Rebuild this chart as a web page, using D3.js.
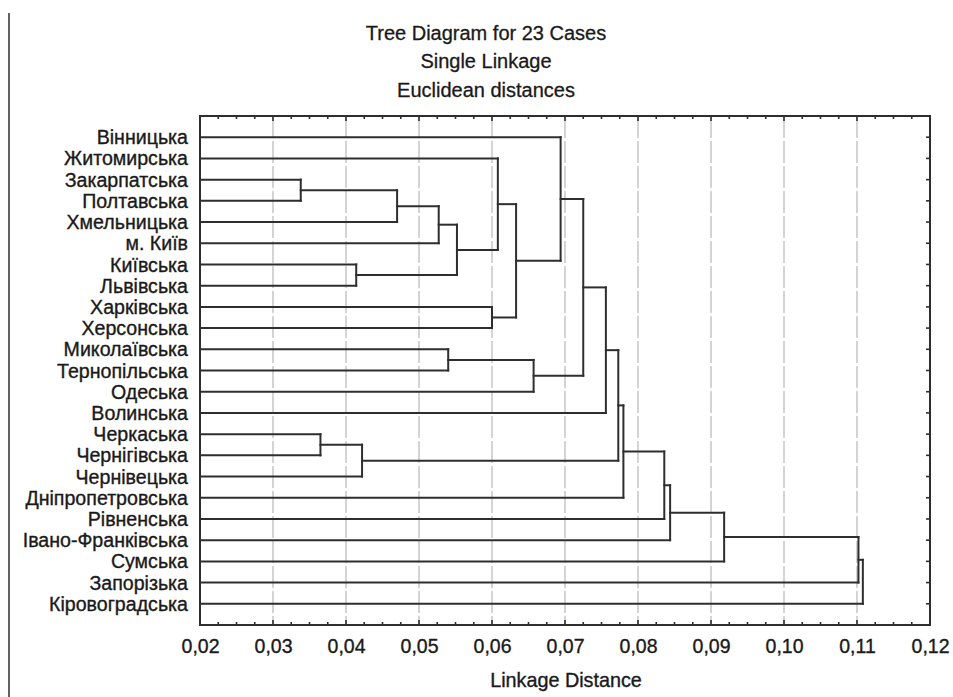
<!DOCTYPE html>
<html>
<head>
<meta charset="utf-8">
<script src="https://cdn.jsdelivr.net/npm/d3@7"></script>
<style>
  html, body { margin: 0; padding: 0; background: #fff; }
  svg { display: block; }
  text { font-family: "Liberation Sans", Arial, sans-serif; fill: #1a1a1a; stroke: #1a1a1a; stroke-width: 0.35px; }
</style>
</head>
<body>
<svg id="chart" width="953" height="697"></svg>
<script>
// ---- Data ----
const titleLines = ["Tree Diagram for 23 Cases", "Single Linkage", "Euclidean distances"];
const xAxisTitle = "Linkage Distance";

// Leaves in dendrogram order (top to bottom)
const cases = [
  "Вінницька", "Житомирська", "Закарпатська", "Полтавська", "Хмельницька",
  "м. Київ", "Київська", "Львівська", "Харківська", "Херсонська",
  "Миколаївська", "Тернопільська", "Одеська", "Волинська", "Черкаська",
  "Чернігівська", "Чернівецька", "Дніпропетровська", "Рівненська",
  "Івано-Франківська", "Сумська", "Запорізька", "Кіровоградська"
];

// Merge steps: ids < 23 are cases, id 23+k is the cluster formed at step k
const mergeA = [2, 14, 6, 24, 23, 27, 10, 28, 8, 1, 32, 29, 0, 35, 36, 37, 38, 39, 40, 41, 42, 43];
const mergeB = [3, 15, 7, 16, 4, 5, 11, 25, 9, 30, 31, 12, 33, 34, 13, 26, 17, 18, 19, 20, 21, 22];
const mergeHeight = [0.0338, 0.0365, 0.0414, 0.0422, 0.0470, 0.0527, 0.0540, 0.0552,
                     0.0600, 0.0608, 0.0633, 0.0657, 0.0694, 0.0725, 0.0756, 0.0773,
                     0.0780, 0.0836, 0.0844, 0.0918, 0.1102, 0.1108];

const xTicks = [0.02, 0.03, 0.04, 0.05, 0.06, 0.07, 0.08, 0.09, 0.10, 0.11, 0.12];
const xDomain = [0.02, 0.12];

// ---- Layout ----
const svg = d3.select("#chart");
const plot = { left: 200, right: 930, top: 116, bottom: 625 };

const x = d3.scaleLinear().domain(xDomain).range([plot.left, plot.right]);
const y = d3.scalePoint().domain(cases).range([plot.top, plot.bottom]).padding(1);

const fmt = d => d3.format(".2f")(d).replace(".", ",");
const ink = "#2e2e2e";

// outer left border line
svg.append("line").attr("x1", 9).attr("x2", 9).attr("y1", 13).attr("y2", 697)
  .attr("stroke", ink).attr("stroke-width", 1.5);

// gridlines
svg.append("g").selectAll("line")
  .data(xTicks.slice(1, -1))
  .join("line")
  .attr("x1", d => x(d)).attr("x2", d => x(d))
  .attr("y1", plot.top).attr("y2", plot.bottom)
  .attr("stroke", "#c2c2c2").attr("stroke-width", 1.4)
  .attr("stroke-dasharray", "22,3");

// Dendrogram geometry
const n = cases.length;
const nodeY = [];
const nodeH = [];
for (let i = 0; i < n; i++) { nodeY[i] = y(cases[i]); nodeH[i] = xDomain[0]; }
const segs = [];
mergeA.forEach((a, k) => {
  const b = mergeB[k], h = mergeHeight[k], id = n + k;
  nodeY[id] = (nodeY[a] + nodeY[b]) / 2;
  nodeH[id] = h;
  segs.push({ x1: x(nodeH[a]), x2: x(h), y1: nodeY[a], y2: nodeY[a] });
  segs.push({ x1: x(nodeH[b]), x2: x(h), y1: nodeY[b], y2: nodeY[b] });
  segs.push({ x1: x(h), x2: x(h), y1: nodeY[a], y2: nodeY[b] });
});

svg.append("g").selectAll("line")
  .data(segs)
  .join("line")
  .attr("x1", d => d.x1).attr("x2", d => d.x2)
  .attr("y1", d => d.y1).attr("y2", d => d.y2)
  .attr("stroke", ink).attr("stroke-width", 2)
  .attr("stroke-linecap", "square");

// Frame
svg.append("rect")
  .attr("x", plot.left).attr("y", plot.top)
  .attr("width", plot.right - plot.left).attr("height", plot.bottom - plot.top)
  .attr("fill", "none").attr("stroke", ink).attr("stroke-width", 2);

// Minor/major ticks (inside) top & bottom
const minorTicks = d3.range(0, 41).map(i => xDomain[0] + i * 0.0025);
const tickG = svg.append("g").attr("stroke", ink).attr("stroke-width", 1.6);
minorTicks.forEach((v, i) => {
  const len = (i % 4 === 0) ? 5 : 3;
  tickG.append("line").attr("x1", x(v)).attr("x2", x(v))
    .attr("y1", plot.top).attr("y2", plot.top + len);
  tickG.append("line").attr("x1", x(v)).attr("x2", x(v))
    .attr("y1", plot.bottom).attr("y2", plot.bottom - len);
});
// right axis ticks at each case
cases.forEach(c => {
  tickG.append("line").attr("x1", plot.right).attr("x2", plot.right - 4)
    .attr("y1", y(c)).attr("y2", y(c));
});

// Bottom axis labels via d3 axis
const xAxis = d3.axisBottom(x).tickValues(xTicks).tickFormat(fmt).tickSize(0).tickPadding(0);
const axG = svg.append("g").attr("transform", `translate(0,${plot.bottom})`).call(xAxis);
axG.select(".domain").remove();
axG.selectAll("text")
  .attr("y", 28).attr("dy", 0)
  .style("font-family", "'Liberation Sans', Arial, sans-serif")
  .style("font-size", "19.5px")
  .style("stroke", "#1a1a1a").style("stroke-width", "0.35px")
  .attr("fill", "#1a1a1a");

// Case labels
svg.append("g").selectAll("text")
  .data(cases)
  .join("text")
  .attr("x", 188)
  .attr("y", d => y(d))
  .attr("dy", "0.36em")
  .attr("text-anchor", "end")
  .style("font-size", "19.6px")
  .text(d => d);

// Titles
svg.append("g").selectAll("text")
  .data(titleLines)
  .join("text")
  .attr("x", 486)
  .attr("y", (d, i) => 40 + i * 28.3)
  .attr("text-anchor", "middle")
  .style("font-size", "20px")
  .style("stroke-width", "0.3px")
  .text(d => d);

svg.append("text")
  .attr("x", 566).attr("y", 687)
  .attr("text-anchor", "middle")
  .style("font-size", "19.8px")
  .text(xAxisTitle);
</script>
</body>
</html>
